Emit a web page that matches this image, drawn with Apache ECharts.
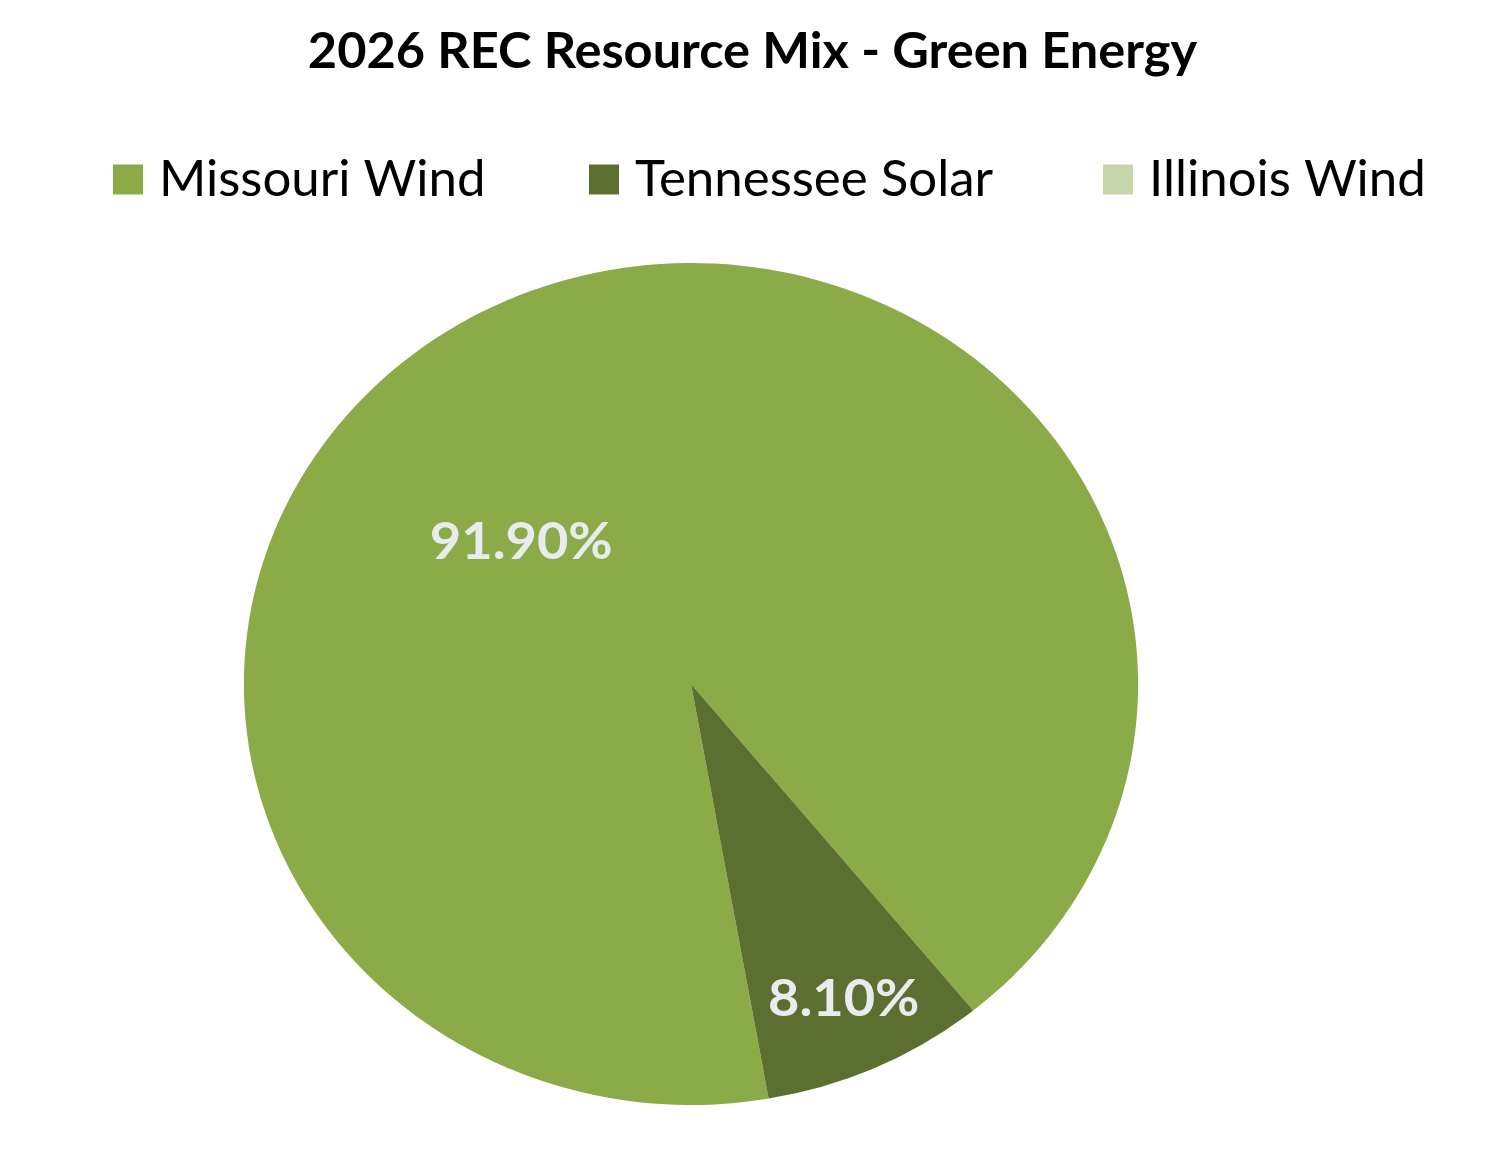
<!DOCTYPE html>
<html>
<head>
<meta charset="utf-8">
<script src="https://cdn.jsdelivr.net/npm/echarts@6/dist/echarts.min.js"></script>
<style>
  html, body { margin: 0; padding: 0; background: #ffffff; }
  #head { position: absolute; left: 0; top: 0; width: 1505px; height: 1171px; }
  /* the Excel pie is a bit wider than tall, so stretch the pie layer */
  #pie { position: absolute; left: 0; top: 0; width: 1505px; height: 1171px;
         transform: scaleX(1.062); transform-origin: 691px 684px; }
</style>
</head>
<body>
<div id="pie"></div>
<div id="head"></div>
<script>
const titleText = '2026 REC Resource Mix - Green Energy';
const categories = ['Missouri Wind', 'Tennessee Solar', 'Illinois Wind'];
const shares = [91.9, 8.1, 0];
const colors = ['#8BAB48', '#5B7030', '#C5D6AB'];

const fontName = 'Lato';

// pie layer
const pieChart = echarts.init(document.getElementById('pie'), null, { renderer: 'svg' });
const labelShift = [[-71, 49], [55, 118], [0, 0]];
pieChart.setOption({
  animation: false,
  series: [{
    type: 'pie',
    center: [691, 684],
    radius: 421,
    startAngle: 280,
    clockwise: true,
    silent: true,
    data: categories.map((name, i) => ({
      name: name,
      value: shares[i],
      itemStyle: { color: colors[i] },
      label: { show: shares[i] > 0 }
    })),
    label: {
      position: 'inside',
      formatter: p => p.value.toFixed(2) + '%',
      color: '#E8ECEE',
      fontFamily: fontName,
      fontWeight: 'bold',
      fontSize: 51
    },
    labelLine: { show: false },
    labelLayout: p => ({ dx: labelShift[p.dataIndex][0], dy: labelShift[p.dataIndex][1] })
  }]
});

// title + legend layer
const headChart = echarts.init(document.getElementById('head'));
const legendLeft = [108, 584, 1098];
headChart.setOption({
  animation: false,
  title: {
    text: titleText,
    left: 'center',
    top: 21,
    textStyle: { fontFamily: fontName, fontWeight: 'bold', fontSize: 50.5, color: '#000000' }
  },
  legend: categories.map((name, i) => ({
    data: [name],
    left: legendLeft[i],
    top: 149,
    icon: 'rect',
    itemWidth: 30,
    itemHeight: 30,
    textStyle: { fontFamily: fontName, fontSize: 51, color: '#000000', padding: [0, 0, 0, 11] }
  })),
  series: [{
    type: 'pie',
    radius: 0,
    silent: true,
    label: { show: false },
    data: categories.map((name, i) => ({ name: name, value: shares[i], itemStyle: { color: colors[i] } }))
  }]
});
</script>
</body>
</html>
